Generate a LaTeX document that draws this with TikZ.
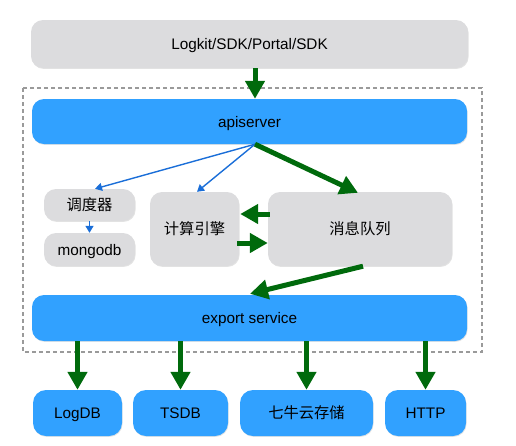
\documentclass[tikz,border=0pt]{standalone}
\usepackage{fontspec}
\setmainfont{Liberation Sans}
\newfontfamily\cjk{Noto Sans CJK SC}
\usetikzlibrary{arrows.meta,shadows,calc}
\definecolor{boxblue}{HTML}{31A1FF}
\definecolor{boxgray}{HTML}{DCDCDE}
\definecolor{arrgreen}{HTML}{006A0C}
\definecolor{arrblue}{HTML}{1A6ED8}
\definecolor{dashgray}{HTML}{9A9A9A}
\tikzset{
  base/.style={rounded corners=12pt, inner sep=0pt, font=\fontsize{15.3}{18}\selectfont,
    text height=11pt, text depth=0pt,
    drop shadow={opacity=0.22, shadow xshift=0.6pt, shadow yshift=-0.9pt}},
  bluebox/.style={base, fill=boxblue},
  graybox/.style={base, fill=boxgray},
  garrow/.style={draw=arrgreen, line width=5pt, -{Triangle[width=19pt,length=18pt]}, arrgreen},
  barrow/.style={draw=arrblue, line width=1.4pt, -{Triangle[width=8pt,length=7pt]}, arrblue},
}
\begin{document}
\begin{tikzpicture}[x=1pt,y=-1pt]
\useasboundingbox (0,0) rectangle (516,445);
% dashed frame
\draw[dashgray, line width=1.2pt, dash pattern=on 4pt off 3pt] (23,88) rectangle (482,352);
% nodes
\node[graybox, minimum width=437pt, minimum height=48pt] (src) at (249.5,44) {Logkit/SDK/Portal/SDK};
\node[bluebox, minimum width=435pt, minimum height=45pt] (api) at (249.5,121.5) {apiserver};
\node[graybox, minimum width=91pt, minimum height=32pt] (sched) at (89.5,205) {\cjk 调度器};
\node[graybox, minimum width=91pt, minimum height=33pt] (mongo) at (89.5,249.5) {mongodb};
\node[graybox, minimum width=89pt, minimum height=74pt] (calc) at (194.5,229) {\cjk 计算引擎};
\node[graybox, minimum width=184pt, minimum height=74pt] (queue) at (360,229) {\cjk 消息队列};
\node[bluebox, minimum width=435pt, minimum height=46pt] (export) at (249.5,318) {export service};
\node[bluebox, minimum width=89pt, minimum height=46pt, rounded corners=13pt] (logdb) at (77.5,413) {LogDB};
\node[bluebox, minimum width=95pt, minimum height=46pt, rounded corners=13pt] (tsdb) at (180.5,413) {TSDB};
\node[bluebox, minimum width=133pt, minimum height=46pt, rounded corners=13pt] (qiniu) at (306.5,413) {\cjk 七牛云存储};
\node[bluebox, minimum width=81pt, minimum height=46pt, rounded corners=13pt] (http) at (425.5,413) {HTTP};
% hub
\coordinate (hub) at ([xshift=5.5pt]api.south);
% connectors
\draw[garrow] (src.south -| hub) -- (api.north -| hub);
\draw[barrow] (hub) -- ([xshift=5.5pt]sched.north);
\draw[barrow] (hub) -- ([xshift=2.5pt]calc.north);
\draw[garrow] (hub) -- ([xshift=-2pt,yshift=-1pt]queue.north);
\draw[barrow] (sched.south) -- (mongo.north);
\draw[garrow] ([yshift=15pt,xshift=2pt]queue.west) -- ([yshift=15pt,xshift=1pt]calc.east);
\draw[garrow] ([yshift=-14pt,xshift=-2pt]calc.east) -- ([yshift=-14pt]queue.west);
\draw[garrow] ([xshift=3pt]queue.south) -- ([xshift=0.5pt,yshift=1pt]export.north);
\draw[garrow] (export.south -| logdb.north) -- (logdb.north);
\draw[garrow] (export.south -| tsdb.north) -- (tsdb.north);
\draw[garrow] (export.south -| qiniu.north) -- (qiniu.north);
\draw[garrow] (export.south -| http.north) -- (http.north);
\end{tikzpicture}
\end{document}
